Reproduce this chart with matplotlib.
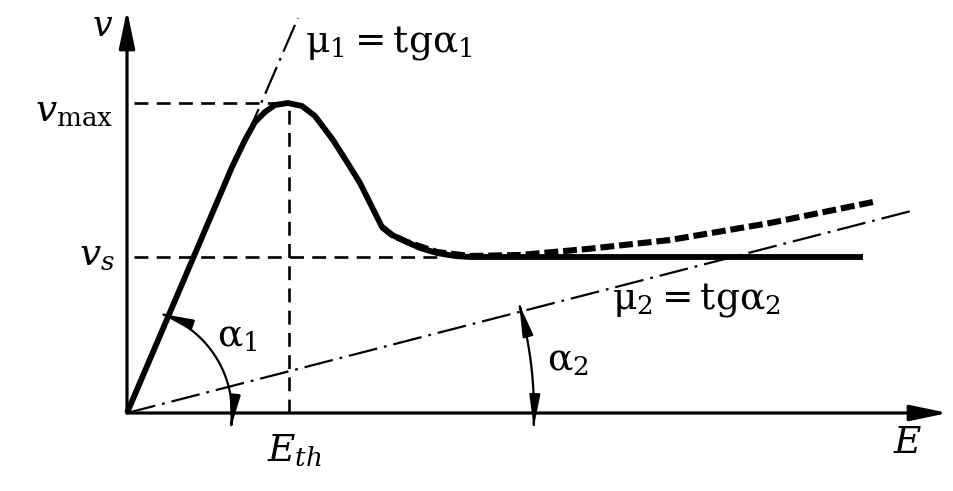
import numpy as np
import matplotlib

matplotlib.use("Agg")
import matplotlib.pyplot as plt
from matplotlib.patches import FancyArrowPatch
from matplotlib.path import Path

plt.rcParams["mathtext.fontset"] = "dejavuserif"
plt.rcParams["font.family"] = "DejaVu Serif"
plt.rcParams["lines.scale_dashes"] = False

# ---- data (arbitrary units) ----
E_curve = [0.00, 1.05, 1.18, 1.28, 1.38, 1.48, 1.61, 1.75, 1.88, 1.97, 2.06,
           2.20, 2.33, 2.45, 2.55, 2.65, 2.80, 2.93, 3.10, 3.28, 3.43, 7.36]
v_curve = [0.00, 2.46, 2.73, 2.91, 3.01, 3.08, 3.10, 3.07, 2.97, 2.85, 2.73,
           2.51, 2.30, 2.06, 1.86, 1.78, 1.71, 1.65, 1.60, 1.57, 1.56, 1.56]

E_dotted = [2.55, 2.65, 2.80, 3.10, 3.43, 3.93, 4.60, 5.43, 6.43, 7.46]
v_dotted = [1.86, 1.78, 1.71, 1.61, 1.57, 1.58, 1.64, 1.73, 1.90, 2.11]

mu1 = 2.31
mu2 = 0.2576
E_th = 1.62
v_max = 3.10
v_s = 1.56

E_axis_end = 8.21
v_axis_end = 4.03

# ---- figure ----
fig = plt.figure(figsize=(9.54, 4.91), dpi=100)
ax = fig.add_axes([0, 0, 1, 1])
ax.set_xlim(-1.27, 8.27)
ax.set_ylim(-0.78, 4.13)
ax.axis("off")

K = "black"

# axes with arrows
for end in [(E_axis_end, 0), (0, v_axis_end)]:
    ax.add_patch(FancyArrowPatch((0, 0), end, arrowstyle="-|>,head_length=2.3,head_width=0.48",
                                 mutation_scale=10, lw=2.3, color=K, shrinkA=0, shrinkB=0))

# guide lines (dashed)
dash = dict(color=K, lw=1.9, dashes=(10, 6))
ax.plot([0.07, E_th], [v_max, v_max], **dash)
ax.plot([E_th, E_th], [0, v_max], **dash)
ax.plot([0.07, 3.1], [v_s, v_s], **dash)

# tangent lines (dash-dot)
dashdot = dict(color=K, lw=1.6, dashes=(21, 5, 2, 5))
E1 = np.array([1.20, 1.71])
ax.plot(E1, mu1 * E1, **dashdot)
E2 = np.array([0.0, 7.88])
ax.plot(E2, mu2 * E2, **dashdot)

# main curve and dotted continuation
ax.plot(E_dotted, v_dotted, color=K, lw=4.4, dashes=(10, 3.5), solid_capstyle="butt")
ax.plot(E_curve, v_curve, color=K, lw=4.2, solid_joinstyle="round", solid_capstyle="butt")


def angle_arc(r, a0, a1):
    t = np.radians(np.linspace(a0, a1, 60))
    path = Path(np.column_stack([r * np.cos(t), r * np.sin(t)]))
    ax.add_patch(FancyArrowPatch(path=path, arrowstyle="<|-|>,head_length=1.9,head_width=0.32",
                                 mutation_scale=10, lw=1.6, color=K))


angle_arc(1.05, -8, 71)
angle_arc(4.07, -2, 15.5)

# labels
fs = 27
ax.text(-0.24, 3.87, r"$v$", fontsize=25, ha="center", va="center")
ax.text(-0.14, 3.03, r"$v_{\mathrm{max}}$", fontsize=fs, ha="right", va="center")
ax.text(-0.12, 1.59, r"$v_s$", fontsize=fs, ha="right", va="center")
ax.text(1.78, 3.70, r"$\mathrm{μ_1{=}tgα_1}$", fontsize=fs, ha="left", va="center")
ax.text(4.85, 1.13, r"$\mathrm{μ_2{=}tgα_2}$", fontsize=fs, ha="left", va="center")
ax.text(0.90, 0.77, r"$\mathrm{α_1}$", fontsize=fs, ha="left", va="center")
ax.text(4.20, 0.53, r"$\mathrm{α_2}$", fontsize=fs, ha="left", va="center")
ax.text(1.40, -0.38, r"$E_{th}$", fontsize=fs, ha="left", va="center")
ax.text(7.81, -0.30, r"$E$", fontsize=fs, ha="center", va="center")

fig.savefig("out.png", dpi=100, facecolor="white")
